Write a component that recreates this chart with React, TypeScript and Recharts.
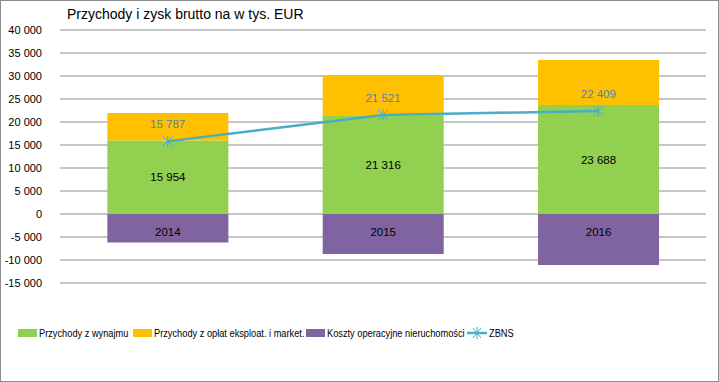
import React from "react";
import {
  ComposedChart,
  Bar,
  Line,
  XAxis,
  YAxis,
  CartesianGrid,
  LabelList,
} from "recharts";

const years = ["2014", "2015", "2016"];
const rentIncome = [15954, 21316, 23688];
const serviceIncome = [6000, 8900, 9800];
const operatingCosts = [-6200, -8700, -11100];
const zbns = [15787, 21521, 22409];
const yTicks = [-15000, -10000, -5000, 0, 5000, 10000, 15000, 20000, 25000, 30000, 35000, 40000];

const GREEN = "#92D050";
const YELLOW = "#FFC000";
const PURPLE = "#8064A2";
const TEAL = "#4BACC6";
const LABEL_BLUE = "#4F81BD";
const FONT = "'Liberation Sans', Arial, sans-serif";

const data = years.map((y, i) => ({
  year: y,
  rent: rentIncome[i],
  service: serviceIncome[i],
  costs: operatingCosts[i],
  zbns: zbns[i],
}));

// "40 000" style, space as thousands separator
const fmt = (v: number) => {
  const s = Math.abs(v).toString().replace(/\B(?=(\d{3})+(?!\d))/g, " ");
  return v < 0 ? "-" + s : s;
};

const StarDot = (props: any) => {
  const { cx, cy } = props;
  if (cx == null || cy == null) return null;
  const r = 5;
  return (
    <g stroke={TEAL} strokeWidth={1}>
      <line x1={cx - r} y1={cy - r} x2={cx + r} y2={cy + r} />
      <line x1={cx - r} y1={cy + r} x2={cx + r} y2={cy - r} />
      <line x1={cx} y1={cy - r - 1} x2={cx} y2={cy + r + 1} />
    </g>
  );
};

// year label sits just below the zero line inside the purple bar
const YearLabel = (props: any) => {
  const { x, y, width, height, value } = props;
  const top = Math.min(y, y + height);
  return (
    <text
      x={x + width / 2}
      y={top + 22}
      textAnchor="middle"
      fill="#000"
      fontSize={11.5}
      fontFamily={FONT}
    >
      {value}
    </text>
  );
};

const legendItems = [
  { label: "Przychody z wynajmu", color: GREEN, x: 17, type: "box" },
  { label: "Przychody z opłat eksploat. i market.", color: YELLOW, x: 132, type: "box" },
  { label: "Koszty operacyjne nieruchomości", color: PURPLE, x: 305, type: "box" },
  { label: "ZBNS", color: TEAL, x: 466, type: "line" },
];

export default function App() {
  return (
    <div
      style={{
        position: "absolute",
        left: 0,
        top: 0,
        width: 719,
        height: 382,
        boxSizing: "border-box",
        border: "1px solid #8c8c8c",
        background: "#fff",
        fontFamily: FONT,
        overflow: "hidden",
      }}
    >
      <div
        style={{
          position: "absolute",
          left: 66,
          top: 5,
          fontSize: 14,
          color: "#000",
        }}
      >
        Przychody i zysk brutto na w tys. EUR
      </div>

      <div style={{ position: "absolute", left: -1, top: -1 }}>
        <ComposedChart
          width={719}
          height={382}
          data={data}
          stackOffset="sign"
          barCategoryGap="22%"
          margin={{ top: 30, right: 13, bottom: 99, left: 0 }}
        >
          <CartesianGrid vertical={false} stroke="#8c8c8c" strokeWidth={1} />
          <XAxis dataKey="year" hide />
          <YAxis
            width={60}
            domain={[-15000, 40000]}
            ticks={yTicks}
            interval={0}
            axisLine={false}
            tickLine={false}
            tickFormatter={fmt}
            tick={{ fill: "#000", fontSize: 11, fontFamily: FONT }}
            tickMargin={12}
          />
          <Bar dataKey="rent" stackId="a" fill={GREEN} isAnimationActive={false}>
            <LabelList
              dataKey="rent"
              position="center"
              formatter={(v: any) => fmt(Number(v))}
              style={{ fill: "#000", fontSize: 11.5, fontFamily: FONT }}
            />
          </Bar>
          <Bar dataKey="service" stackId="a" fill={YELLOW} isAnimationActive={false} />
          <Bar dataKey="costs" stackId="a" fill={PURPLE} isAnimationActive={false}>
            <LabelList dataKey="year" content={<YearLabel />} />
          </Bar>
          <Line
            dataKey="zbns"
            stroke={TEAL}
            strokeWidth={2.5}
            dot={<StarDot />}
            activeDot={false}
            isAnimationActive={false}
          >
            <LabelList
              dataKey="zbns"
              position="top"
              offset={13}
              formatter={(v: any) => fmt(Number(v))}
              style={{ fill: LABEL_BLUE, fontSize: 11.5, fontFamily: FONT }}
            />
          </Line>
        </ComposedChart>
      </div>

      {legendItems.map((it) => (
        <div
          key={it.label}
          style={{
            position: "absolute",
            left: it.x,
            top: 325,
            height: 14,
            display: "flex",
            alignItems: "center",
            fontSize: 11,
            color: "#000",
            whiteSpace: "nowrap",
          }}
        >
          {it.type === "box" ? (
            <div style={{ width: 19, height: 8, background: it.color, marginRight: 2 }} />
          ) : (
            <svg width={20} height={12} style={{ marginRight: 2 }}>
              <line x1={0} y1={6} x2={20} y2={6} stroke={TEAL} strokeWidth={2.5} />
              <line x1={6} y1={1} x2={14} y2={11} stroke={TEAL} strokeWidth={1} />
              <line x1={6} y1={11} x2={14} y2={1} stroke={TEAL} strokeWidth={1} />
              <line x1={10} y1={0} x2={10} y2={12} stroke={TEAL} strokeWidth={1} />
            </svg>
          )}
          <span
            style={{
              display: "inline-block",
              transform: "scaleX(0.84)",
              transformOrigin: "left center",
            }}
          >
            {it.label}
          </span>
        </div>
      ))}
    </div>
  );
}
